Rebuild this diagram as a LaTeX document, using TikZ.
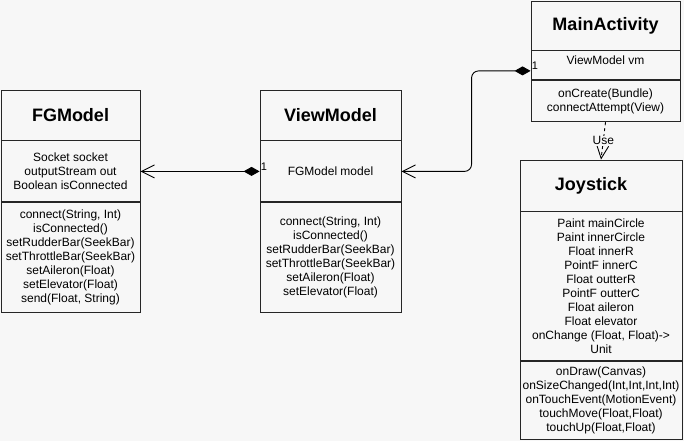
\documentclass[tikz,border=0pt]{standalone}
\usepackage{fontspec}
\setmainfont{Liberation Sans}
\usetikzlibrary{positioning,arrows.meta}
\definecolor{bgcol}{HTML}{F7F7F7}
\tikzset{
  umlpart/.style={draw=black!85, line width=0.9pt, inner sep=0pt, align=center,
    font=\fontsize{12}{14}\selectfont},
  umltitle/.style={umlpart, font=\fontsize{18}{20}\selectfont\bfseries},
  mult/.style={inner sep=1pt, font=\fontsize{11}{12}\selectfont},
  comp/.style={line width=0.9pt, {Diamond[length=16pt,width=9pt]}-{Straight Barb[length=13pt,width=13pt]}},
}
\begin{document}
\begin{tikzpicture}[x=1pt,y=-1pt]
  \fill[bgcol] (0,0) rectangle (684,441);
  \useasboundingbox (0,0) rectangle (684,441);
  % FGModel
  \node[umltitle, minimum width=139pt, minimum height=50pt] (fg) at (70.5,115) {FGModel};
  \node[umlpart, minimum width=139pt, minimum height=61pt, below=0pt of fg] (fgattr)
    {Socket socket\\outputStream out\\Boolean isConnected};
  \node[umlpart, minimum width=139pt, minimum height=110pt, below=0pt of fgattr] (fgops)
    {connect(String, Int)\\isConnected()\\setRudderBar(SeekBar)\\setThrottleBar(SeekBar)\\setAileron(Float)\\setElevator(Float)\\send(Float, String)};
  % ViewModel
  \node[umltitle, minimum width=141pt, minimum height=50pt] (vm) at (330.5,115) {ViewModel};
  \node[umlpart, minimum width=141pt, minimum height=61pt, below=0pt of vm] (vmattr) {FGModel model};
  \node[umlpart, minimum width=141pt, minimum height=110pt, below=0pt of vmattr] (vmops)
    {connect(String, Int)\\isConnected()\\setRudderBar(SeekBar)\\setThrottleBar(SeekBar)\\setAileron(Float)\\setElevator(Float)};
  % MainActivity
  \node[umltitle, minimum width=149pt, minimum height=49pt] (ma) at (605.5,25.5) {MainActivity};
  \node[umlpart, minimum width=149pt, minimum height=29pt, text depth=11pt, below=0pt of ma] (maattr) {ViewModel vm};
  \node[umlpart, minimum width=149pt, minimum height=41pt, below=0pt of maattr] (maops)
    {onCreate(Bundle)\\connectAttempt(View)};
  % Joystick
  \node[umltitle, minimum width=162pt, minimum height=51pt] (joy) at (601,185.5) {Joystick\hspace{20pt}};
  \node[umlpart, minimum width=162pt, minimum height=149pt, below=0pt of joy] (joyattr)
    {Paint mainCircle\\Paint innerCircle\\Float innerR\\PointF innerC\\Float outterR\\PointF outterC\\Float aileron\\Float elevator\\onChange (Float, Float)->\\Unit};
  \node[umlpart, minimum width=162pt, minimum height=78pt, below=0pt of joyattr] (joyops)
    {onDraw(Canvas)\\onSizeChanged(Int,Int,Int,Int)\\onTouchEvent(MotionEvent)\\touchMove(Float,Float)\\touchUp(Float,Float)};
  % connectors
  \draw[comp] (vmattr.west) -- (fgattr.east);
  \node[mult, anchor=south west] at (vmattr.west) {1};
  \draw[comp, rounded corners=7pt] ([yshift=-5.5pt]maattr.west) -- ++(-59,0) |- (vmattr.east);
  \node[mult, anchor=south west] at ([yshift=-5.5pt]maattr.west) {1};
  \draw[line width=0.9pt, dash pattern=on 3pt off 3pt, -{Straight Barb[length=13pt,width=12pt]}]
    (maops.south) -- node[fill=bgcol, inner sep=1pt, font=\fontsize{12}{13}\selectfont]{Use} (joy.north);
\end{tikzpicture}
\end{document}
